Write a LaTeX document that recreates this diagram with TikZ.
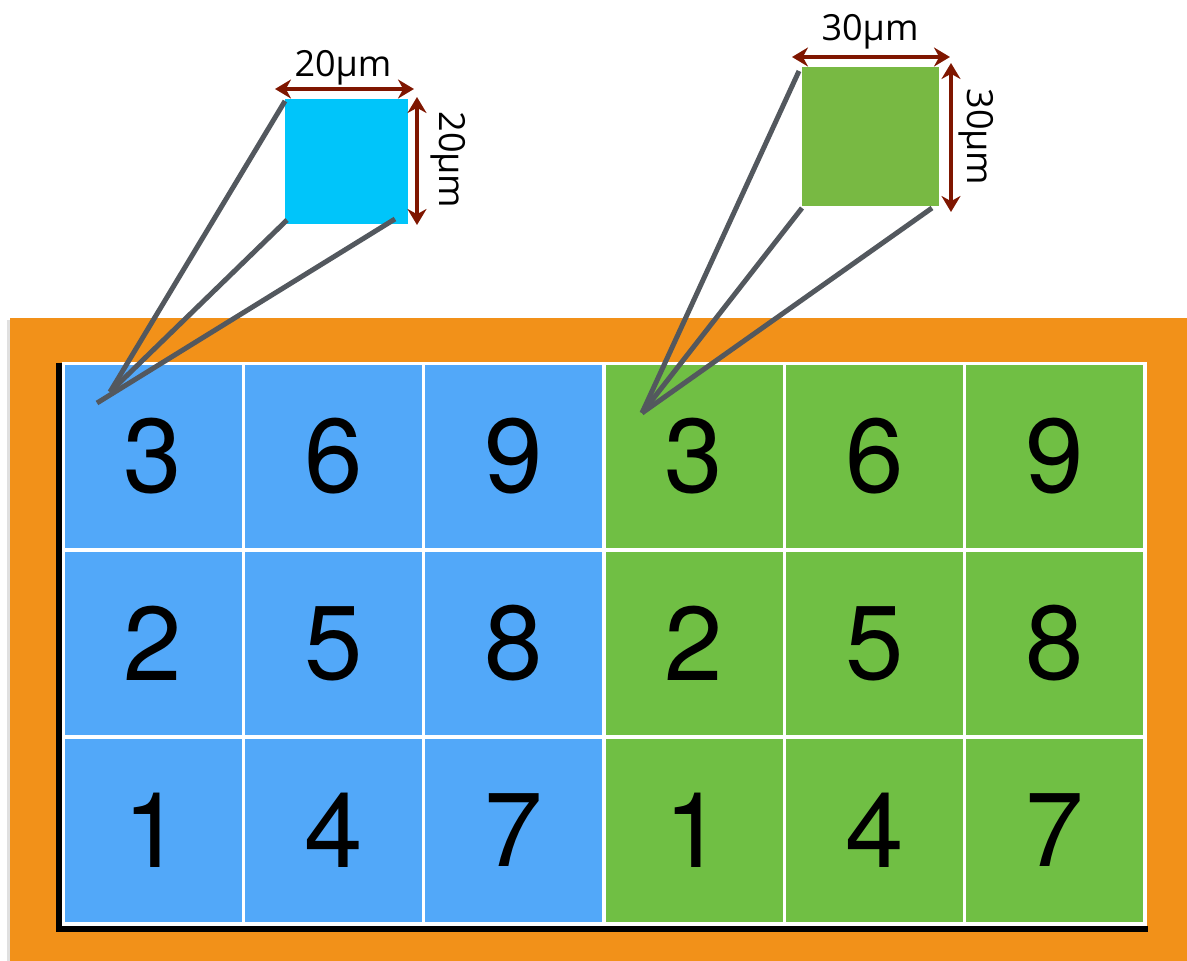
\documentclass[tikz,border=0pt]{standalone}
\usepackage{fontspec}
\setmainfont{TeX Gyre Heros}
\newfontfamily\labfont{Open Sans}
\usetikzlibrary{arrows.meta}
\definecolor{orangebg}{HTML}{F29119}
\definecolor{bluecell}{HTML}{52A8F9}
\definecolor{greencell}{HTML}{70BF44}
\definecolor{cyansq}{HTML}{00C5FA}
\definecolor{greensq}{HTML}{78B943}
\definecolor{dimred}{HTML}{7F1600}
\definecolor{pinline}{HTML}{53585E}
\tikzset{
  cellbox/.style={inner sep=0pt, minimum width=176.8pt, minimum height=183.5pt,
    font=\fontsize{105}{105}\selectfont, text=black},
  bluecellbox/.style={cellbox, fill=bluecell},
  greencellbox/.style={cellbox, fill=greencell},
  dimarrow/.style={draw=dimred, line width=4.2pt, {Stealth[length=16pt,width=19pt]}-{Stealth[length=16pt,width=19pt]}},
  pin/.style={draw=pinline, line width=5pt},
  dimlabel/.style={font=\labfont\fontsize{36}{36}\selectfont, inner sep=0pt, text=black},
}
\begin{document}
\begin{tikzpicture}[x=1pt,y=-1pt]
\useasboundingbox (0,0) rectangle (1187,961);
% orange background
\fill[black!12] (7,320) rectangle (1187,961);
\fill[orangebg] (10,318) rectangle (1187,961);
% black L frame
\draw[black, line width=6pt] (58.5,363) -- (58.5,929) -- (1147.5,929);
% white grid background
\fill[white] (61.5,361.5) rectangle (1146.5,925.5);
% cells
\foreach \i in {0,1,2,3,4,5}{
  \foreach \j in {0,1,2}{
    \pgfmathtruncatemacro{\num}{3*mod(\i,3)+3-\j}
    \pgfmathsetmacro{\cx}{63+180.33*(\i+0.5)}
    \pgfmathsetmacro{\cy}{363+187*(\j+0.5)}
    \ifnum\i<3
      \node[bluecellbox] (c\i\j) at (\cx,\cy) {\raisebox{-4pt}{\num}};
    \else
      \node[greencellbox] (c\i\j) at (\cx,\cy) {\raisebox{-4pt}{\num}};
    \fi
  }
}
% small squares
\node[fill=cyansq, inner sep=0pt, minimum width=123pt, minimum height=125pt] (bsq) at (346.5,161.5) {};
\node[fill=greensq, inner sep=0pt, minimum width=137pt, minimum height=139pt] (gsq) at (870.5,136.5) {};
% pin lines (blue)
\coordinate (bt1) at (110,392);
\coordinate (bt2) at (97,403);
\coordinate (bs3) at (395,219);
\coordinate (bs2) at (287,220);
\coordinate (bs1) at (285,101);
\draw[pin] (bs1) -- (bt1);
\draw[pin] (bs2) -- (bt1);
\draw[pin] (bs3) -- (bt2);
% pin lines (green)
\coordinate (gt) at (642,413);
\coordinate (gs1) at (799,71);
\coordinate (gs2) at (802,208);
\coordinate (gs3) at (932,208);
\draw[pin] (gs1) -- (gt);
\draw[pin] (gs2) -- (gt);
\draw[pin] (gs3) -- (gt);
% dimension arrows blue
\coordinate (bh1) at (275,89);
\coordinate (bh2) at (414,89);
\coordinate (bv1) at (417,97);
\coordinate (bv2) at (417,225);
\draw[dimarrow] (bh1) -- (bh2);
\draw[dimarrow] (bv1) -- (bv2);
\node[dimlabel, anchor=base] (bhl) at (343,76) {20µm};
\node[dimlabel, anchor=base, rotate=-90] (bvl) at (439,160) {20µm};
% dimension arrows green
\coordinate (gh1) at (792,57);
\coordinate (gh2) at (950,57);
\coordinate (gv1) at (951,63);
\coordinate (gv2) at (951,212);
\draw[dimarrow] (gh1) -- (gh2);
\draw[dimarrow] (gv1) -- (gv2);
\node[dimlabel, anchor=base] (ghl) at (870,40) {30µm};
\node[dimlabel, anchor=base, rotate=-90] (gvl) at (967,137) {30µm};
\end{tikzpicture}
\end{document}
